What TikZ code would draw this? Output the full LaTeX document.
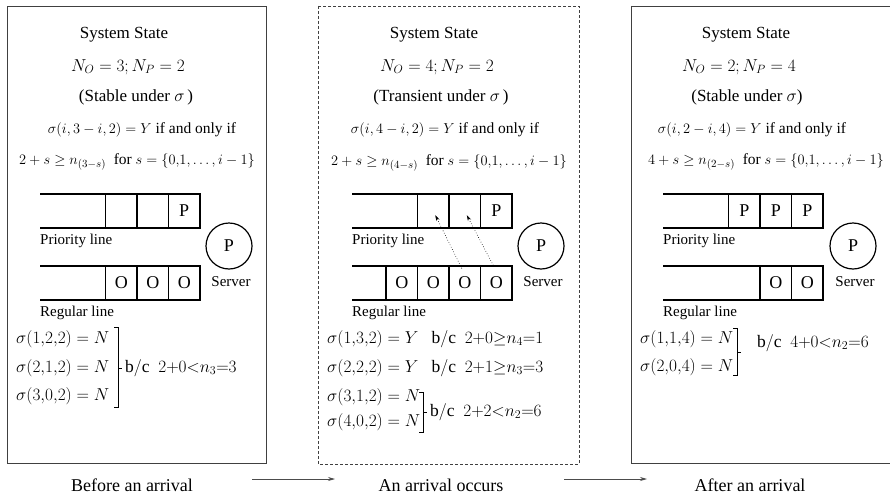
\documentclass[tikz,border=0pt]{standalone}
\usepackage{fontspec}
\setmainfont{Liberation Serif}
\usetikzlibrary{arrows.meta}
\begin{document}
\begin{tikzpicture}[x=1pt,y=-1pt,font=\rmfamily\fontsize{17}{20}\selectfont]
\tikzset{
 panel/.style={draw=black!75, line width=0.9pt},
 dpanel/.style={draw=black!75, line width=0.8pt, dash pattern=on 3pt off 2pt},
 qline/.style={line width=1.4pt},
 cell/.style={draw, line width=1.2pt, minimum width=31.5pt, minimum height=34pt, inner sep=0pt, font=\rmfamily\fontsize{18}{20}\selectfont},
 txt/.style={inner sep=0pt},
 cond/.style={inner sep=0pt, font=\rmfamily\fontsize{15.5}{18}\selectfont},
 eqn/.style={inner sep=0pt, anchor=west, font=\rmfamily\fontsize{17.5}{20}\selectfont},
 lbl/.style={inner sep=0pt, anchor=west, font=\rmfamily\fontsize{15}{17}\selectfont},
 srvlbl/.style={inner sep=0pt, font=\rmfamily\fontsize{15}{17}\selectfont},
 srv/.style={circle, draw, line width=1.2pt, minimum size=46pt, inner sep=0pt, font=\rmfamily\fontsize{18}{20}\selectfont},
 brk/.style={line width=0.6pt},
 flow/.style={draw=black!70, line width=0.7pt, -{Stealth[length=7pt,width=4pt]}},
 move/.style={dotted, line width=0.6pt, -{Stealth[length=6pt,width=3.5pt]}},
 captxt/.style={inner sep=0pt, font=\rmfamily\fontsize{18}{20}\selectfont},
}
\useasboundingbox (0,0) rectangle (890,495);

% ---------- Panel 1 ----------
\draw[panel] (7,6) rectangle (266,463);
\node[txt] (t1a) at (124,35) {System State};
\node[txt] (t1b) at (128,67) {$N_O=3; N_P=2$};
\node[txt] (t1c) at (136,97) {(Stable under $\sigma$\,)};
\node[cond] (t1d) at (142,130) {$\sigma(i,3-i,2)=Y$ if and only if};
\node[cond] (t1e) at (137,162) {$2+s\geq n_{(3-s)}$\ \ for\ $s=\{0{,}1,\ldots,i-1\}$};
\draw[qline] (40,194) -- (200,194) (40,228) -- (200,228);
\node[cell] (p11) at (121.25,211) {};
\node[cell] (p12) at (152.75,211) {};
\node[cell] (p13) at (184.25,211) {P};
\node[lbl] (pl1) at (40,241) {Priority line};
\node[srv] (s1) at (229,246) {P};
\node[srvlbl] (sl1) at (231,282) {Server};
\draw[qline] (40,266) -- (200,266) (40,300) -- (200,300);
\node[cell] (o11) at (121.25,283) {O};
\node[cell] (o12) at (152.75,283) {O};
\node[cell] (o13) at (184.25,283) {O};
\node[lbl] (rl1) at (40,313) {Regular line};
\node[eqn] (e11) at (16,339) {$\sigma(1{,}2{,}2)=N$};
\node[eqn] (e12) at (16,368) {$\sigma(2{,}1{,}2)=N$};
\node[eqn] (e13) at (16,396) {$\sigma(3{,}0{,}2)=N$};
\draw[brk] (114,327) -- (118,327) -- (118,407) -- (114,407) (118,368) -- (122,368);
\node[eqn] (b1) at (125,368) {$\mathrm{b/c}\ \ 2{+}0{<}n_3{=}3$};
\node[captxt] (c1) at (132,485) {Before an arrival};

% ---------- Panel 2 ----------
\draw[dpanel] (318,6) rectangle (579,464);
\node[txt] (t2a) at (434,35) {System State};
\node[txt] (t2b) at (437,67) {$N_O=4; N_P=2$};
\node[txt] (t2c) at (441,97) {(Transient under $\sigma$\,)};
\node[cond] (t2d) at (445,130) {$\sigma(i,4-i,2)=Y$ if and only if};
\node[cond] (t2e) at (449,163) {$2+s\geq n_{(4-s)}$\ \ for\ $s=\{0{,}1,\ldots,i-1\}$};
\draw[qline] (352,194) -- (512,194) (352,228) -- (512,228);
\node[cell] (p21) at (433.25,211) {};
\node[cell] (p22) at (464.75,211) {};
\node[cell] (p23) at (496.25,211) {P};
\node[lbl] (pl2) at (352,241) {Priority line};
\node[srv] (s2) at (541,246) {P};
\node[srvlbl] (sl2) at (543,282) {Server};
\draw[qline] (352,266) -- (512,266) (352,300) -- (512,300);
\node[cell] (o21) at (401.75,283) {O};
\node[cell] (o22) at (433.25,283) {O};
\node[cell] (o23) at (464.75,283) {O};
\node[cell] (o24) at (496.25,283) {O};
\node[lbl] (rl2) at (352,313) {Regular line};
\draw[move] ([xshift=-3pt,yshift=-3pt]o23.north) -- ([xshift=2pt,yshift=-4pt]p21.center);
\draw[move] ([xshift=-3pt,yshift=0pt]o24.north) -- ([xshift=2pt,yshift=-4pt]p22.center);
\node[eqn] (e21) at (327,339) {$\sigma(1{,}3{,}2)=Y$\ \ \ $\mathrm{b/c}\ \ 2{+}0{\geq}n_4{=}1$};
\node[eqn] (e22) at (327,368) {$\sigma(2{,}2{,}2)=Y$\ \ \ $\mathrm{b/c}\ \ 2{+}1{\geq}n_3{=}3$};
\node[eqn] (e23) at (327,397) {$\sigma(3{,}1{,}2)=N$};
\node[eqn] (e24) at (327,422) {$\sigma(4{,}0{,}2)=N$};
\draw[brk] (419,392) -- (423,392) -- (423,432) -- (419,432) (423,412) -- (427,412);
\node[eqn] (b2) at (430,412) {$\mathrm{b/c}\ \ 2{+}2{<}n_2{=}6$};
\node[captxt] (c2) at (441,485) {An arrival occurs};

% ---------- Panel 3 ----------
\draw[panel] (631,6) -- (890,6) (631,6) -- (631,463) -- (890,463);
\node[txt] (t3a) at (746,35) {System State};
\node[txt] (t3b) at (739,67) {$N_O=2; N_P=4$};
\node[txt] (t3c) at (747,97) {(Stable under $\sigma$)};
\node[cond] (t3d) at (752,130) {$\sigma(i,2-i,4)=Y$ if and only if};
\node[cond] (t3e) at (766,162) {$4+s\geq n_{(2-s)}$\ \ for\ $s=\{0{,}1,\ldots,i-1\}$};
\draw[qline] (663,194) -- (823,194) (663,228) -- (823,228);
\node[cell] (p31) at (744.25,211) {P};
\node[cell] (p32) at (775.75,211) {P};
\node[cell] (p33) at (807.25,211) {P};
\node[lbl] (pl3) at (663,241) {Priority line};
\node[srv] (s3) at (853,246) {P};
\node[srvlbl] (sl3) at (855,282) {Server};
\draw[qline] (663,266) -- (823,266) (663,300) -- (823,300);
\node[cell] (o31) at (775.75,283) {O};
\node[cell] (o32) at (807.25,283) {O};
\node[lbl] (rl3) at (663,313) {Regular line};
\node[eqn] (e31) at (640,339) {$\sigma(1{,}1{,}4)=N$};
\node[eqn] (e32) at (640,367) {$\sigma(2{,}0{,}4)=N$};
\draw[brk] (733,328) -- (737,328) -- (737,375) -- (733,375) (737,352) -- (741,352);
\node[eqn] (b3) at (757,343) {$\mathrm{b/c}\ \ 4{+}0{<}n_2{=}6$};
\node[captxt] (c3) at (750,485) {After an arrival};

% ---------- flow arrows ----------
\coordinate (f1s) at (252,479);
\coordinate (f1e) at (335,479);
\coordinate (f2s) at (564,479);
\coordinate (f2e) at (647,479);
\draw[flow] (f1s) -- (f1e);
\draw[flow] (f2s) -- (f2e);
\end{tikzpicture}
\end{document}
